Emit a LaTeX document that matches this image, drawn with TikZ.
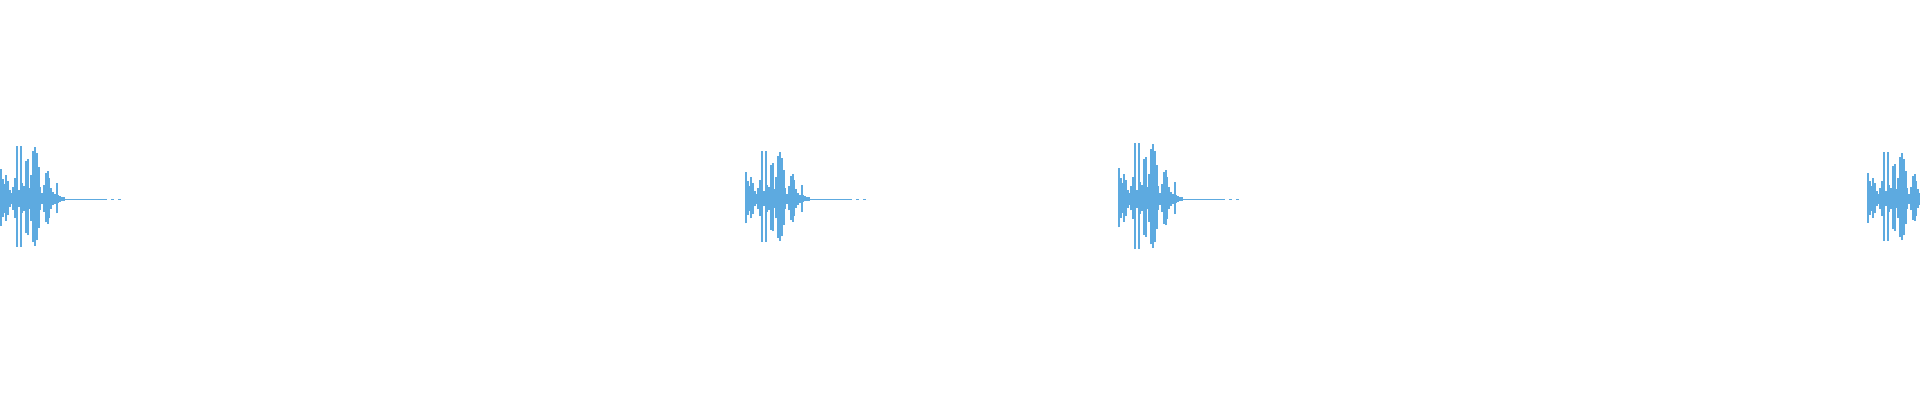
\documentclass[tikz,border=0pt]{standalone}
\usepackage{tikz}
\definecolor{wavecol}{RGB}{93,170,224}
\tikzset{bar/.style={wavecol,line width=2.1pt},
  tail/.style={wavecol,line width=1pt}}
% one burst: #1 = left x, #2 = height factor
\newcommand{\burst}[2]{%
  \foreach \a [count=\i] in {30,20,15,24,18,9,6,12,21,53,9,53,16,13,38,40,11,24,48,52,46,32,12,6,14,26,28,21,11,7,5,16,4,3,2,2}
    \draw[bar] ({#1+1.8*\i-1},{201-0.9*#2*\a}) -- ({#1+1.8*\i-1},{201+#2*\a});
  \draw[tail] ({#1+64},201) -- ({#1+104},201);
  \draw[tail,dash pattern=on 3pt off 4pt] ({#1+104},201) -- ({#1+124},201);
}
\begin{document}
\begin{tikzpicture}[x=1pt,y=1pt]
\useasboundingbox (0,0) rectangle (1920,400);
\burst{0}{1}
\burst{745}{0.9}
\burst{1118}{1.05}
\burst{1867}{0.88}
\end{tikzpicture}
\end{document}
